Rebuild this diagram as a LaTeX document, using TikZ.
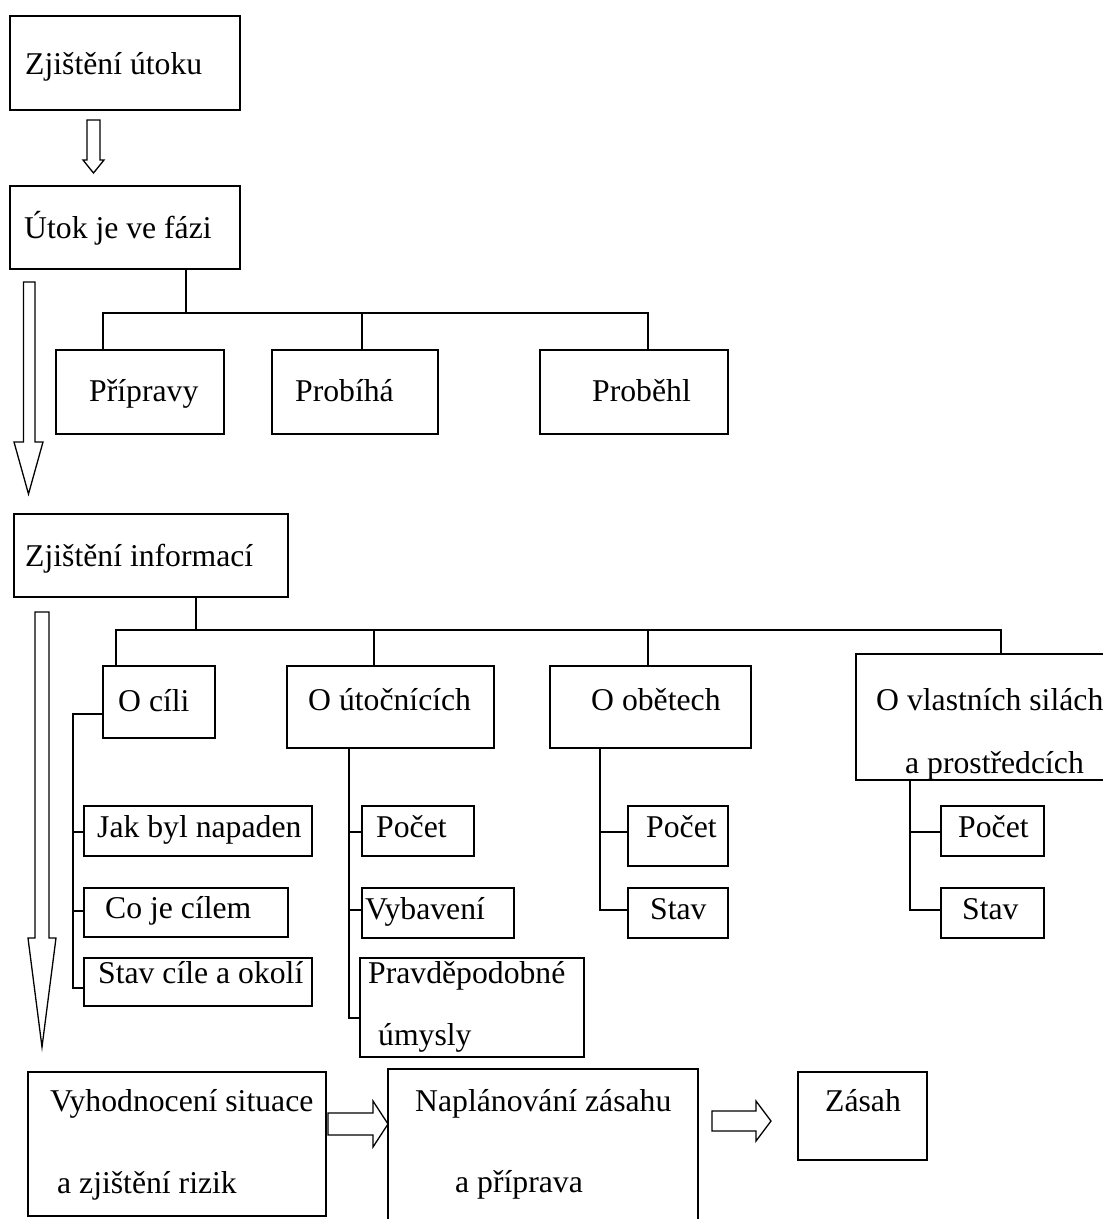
\documentclass[tikz,border=0pt]{standalone}
\usepackage{fontspec}
\setmainfont{Liberation Serif}
\begin{document}
\begin{tikzpicture}[x=1pt,y=-1pt,
  box/.style={draw, line width=1.5pt, inner sep=0pt, outer sep=0pt, anchor=north west},
  txt/.style={inner sep=0pt, anchor=base west, font=\fontsize{31.7}{38}\selectfont},
  conn/.style={line width=1.5pt},
  blockarrow/.style={draw, line width=1.3pt, fill=white, line join=miter}]
\clip (0,0) rectangle (1103,1219);
\fill[white] (0,0) rectangle (1103,1219);
% boxes
\node[box, minimum width=230pt, minimum height=94pt] (b1) at (10,16) {};
\node[box, minimum width=230pt, minimum height=83pt] (b2) at (10,186) {};
\node[box, minimum width=168pt, minimum height=84pt] (bPri) at (56,350) {};
\node[box, minimum width=166pt, minimum height=84pt] (bPrb) at (272,350) {};
\node[box, minimum width=188pt, minimum height=84pt] (bPrl) at (540,350) {};
\node[box, minimum width=274pt, minimum height=83pt] (bZI) at (14,514) {};
\node[box, minimum width=112pt, minimum height=72pt] (bOC) at (103,666) {};
\node[box, minimum width=207pt, minimum height=82pt] (bOU) at (287,666) {};
\node[box, minimum width=201pt, minimum height=82pt] (bOO) at (550,666) {};
\node[box, minimum width=260pt, minimum height=126pt] (bOV) at (856,654) {};
\node[box, minimum width=228pt, minimum height=50pt] (bJak) at (84,806) {};
\node[box, minimum width=204pt, minimum height=49pt] (bCo) at (84,888) {};
\node[box, minimum width=228pt, minimum height=48pt] (bSt) at (84,958) {};
\node[box, minimum width=112pt, minimum height=50pt] (bUP) at (362,806) {};
\node[box, minimum width=152pt, minimum height=50pt] (bUV) at (362,888) {};
\node[box, minimum width=224pt, minimum height=99pt] (bUPr) at (360,958) {};
\node[box, minimum width=100pt, minimum height=60pt] (bOP) at (628,806) {};
\node[box, minimum width=100pt, minimum height=50pt] (bOS) at (628,888) {};
\node[box, minimum width=103pt, minimum height=50pt] (bVP) at (941,806) {};
\node[box, minimum width=103pt, minimum height=50pt] (bVS) at (941,888) {};
\node[box, minimum width=298pt, minimum height=144pt] (bVy) at (28,1072) {};
\node[box, minimum width=310pt, minimum height=170pt] (bNa) at (388,1069) {};
\node[box, minimum width=129pt, minimum height=88pt] (bZa) at (798,1072) {};
% texts
\node[txt] (t1) at (25,74) {Zjištění útoku};
\node[txt] (t2) at (24,238) {Útok je ve fázi};
\node[txt] (tPri) at (89,401) {Přípravy};
\node[txt] (tPrb) at (295,401) {Probíhá};
\node[txt] (tPrl) at (592,401) {Proběhl};
\node[txt] (tZI) at (25,566) {Zjištění informací};
\node[txt] (tOC) at (118,711) {O cíli};
\node[txt] (tOU) at (308,710) {O útočnících};
\node[txt] (tOO) at (591,710) {O obětech};
\node[txt] (tOV1) at (876,710) {O vlastních silách};
\node[txt] (tOV2) at (905,773) {a prostředcích};
\node[txt] (tJak) at (97,837) {Jak byl napaden};
\node[txt] (tCo) at (105,918) {Co je cílem};
\node[txt] (tSt) at (98,983) {Stav cíle a okolí};
\node[txt] (tUP) at (376,837) {Počet};
\node[txt] (tUV) at (365,919) {Vybavení};
\node[txt] (tUPr1) at (368,983) {Pravděpodobné};
\node[txt] (tUPr2) at (378,1045) {úmysly};
\node[txt] (tOP) at (646,837) {Počet};
\node[txt] (tOS) at (650,919) {Stav};
\node[txt] (tVP) at (958,837) {Počet};
\node[txt] (tVS) at (962,919) {Stav};
\node[txt] (tVy1) at (50,1111) {Vyhodnocení situace};
\node[txt] (tVy2) at (57,1193) {a zjištění rizik};
\node[txt] (tNa1) at (415,1111) {Naplánování zásahu};
\node[txt] (tNa2) at (455,1192) {a příprava};
\node[txt] (tZa) at (825,1111) {Zásah};
% tree 1
\coordinate (j1) at (186,313);
\coordinate (h1a) at (103,313);
\coordinate (h1b) at (362,313);
\coordinate (h1c) at (648,313);
\draw[conn] (j1 |- b2.south) -- (j1);
\draw[conn] (h1a |- bPri.north) -- (h1a) -- (h1c) -- (h1c |- bPrl.north);
\draw[conn] (h1b) -- (h1b |- bPrb.north);
% tree 2
\coordinate (j2) at (196,630);
\coordinate (h2a) at (116,630);
\coordinate (h2b) at (374,630);
\coordinate (h2c) at (648,630);
\coordinate (h2d) at (1001,630);
\draw[conn] (j2 |- bZI.south) -- (j2);
\draw[conn] (h2a |- bOC.north) -- (h2a) -- (h2d) -- (h2d |- bOV.north);
\draw[conn] (h2b) -- (h2b |- bOU.north);
\draw[conn] (h2c) -- (h2c |- bOO.north);
% O cili subtree
\coordinate (v1) at (73,714);
\coordinate (v1e) at (73,988);
\draw[conn] (v1 -| bOC.west) -- (v1) -- (v1e) -- (v1e -| bSt.west);
\draw[conn] (73,832) coordinate (v1a) -- (v1a -| bJak.west);
\draw[conn] (73,911) coordinate (v1b) -- (v1b -| bCo.west);
% O utocnicich subtree
\coordinate (v2) at (349,748);
\coordinate (v2e) at (349,1018);
\draw[conn] (v2) -- (v2e) -- (v2e -| bUPr.west);
\draw[conn] (349,832) coordinate (v2a) -- (v2a -| bUP.west);
\draw[conn] (349,910) coordinate (v2b) -- (v2b -| bUV.west);
% O obetech subtree
\coordinate (v3) at (600,748);
\coordinate (v3e) at (600,910);
\draw[conn] (v3) -- (v3e) -- (v3e -| bOS.west);
\draw[conn] (600,832) coordinate (v3a) -- (v3a -| bOP.west);
% O vlastnich subtree
\coordinate (v4) at (910,780);
\coordinate (v4e) at (910,910);
\draw[conn] (v4) -- (v4e) -- (v4e -| bVS.west);
\draw[conn] (910,832) coordinate (v4a) -- (v4a -| bVP.west);
% block arrows
\draw[blockarrow] (87,120) -- (100,120) -- (100,160) -- (104,160) -- (93.5,173) -- (83,160) -- (87,160) -- cycle;
\draw[blockarrow] (23.5,282) -- (35,282) -- (35,442) -- (43,442) -- (28.5,494) -- (14,442) -- (23.5,442) -- cycle;
\draw[blockarrow] (35,612) -- (49,612) -- (49,938) -- (56,938) -- (42,1047) -- (28,938) -- (35,938) -- cycle;
\draw[blockarrow] (328,1113) -- (373,1113) -- (373,1101) -- (388,1124) -- (373,1147) -- (373,1135) -- (328,1135) -- cycle;
\draw[blockarrow] (712,1111) -- (756,1111) -- (756,1101) -- (771,1121) -- (756,1141) -- (756,1131) -- (712,1131) -- cycle;
\end{tikzpicture}
\end{document}
